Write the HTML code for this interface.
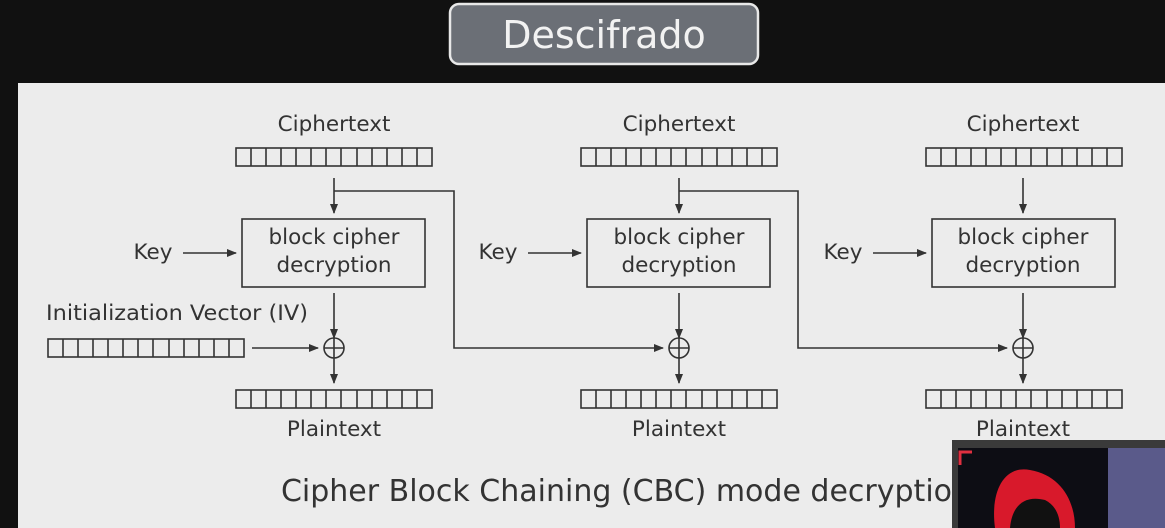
<!DOCTYPE html>
<html><head><style>
body{margin:0;width:1165px;height:528px;background:#111;overflow:hidden;position:relative;font-family:"DejaVu Sans","Liberation Sans",sans-serif}
</style></head><body>
<svg width="1165" height="528" style="position:absolute;left:0;top:0">
<defs>
<marker id="a" markerWidth="10" markerHeight="8" refX="9" refY="4" orient="auto" markerUnits="userSpaceOnUse"><path d="M0,0 L10,4 L0,8 Z" fill="#333"/></marker>
</defs>
<rect x="0" y="0" width="1165" height="528" fill="#111"/>
<rect x="450" y="4" width="308" height="60" rx="9" fill="#6b6f76" stroke="#e8e8e8" stroke-width="2.5"/>
<text x="604" y="48" text-anchor="middle" font-family="'DejaVu Sans',sans-serif" font-size="38" fill="#f2f2f2">Descifrado</text>
<rect x="18" y="83" width="1147" height="445" fill="#ececec"/>
<g fill="#333" font-size="21.5" text-anchor="middle">
<text x="334" y="131">Ciphertext</text><text x="679" y="131">Ciphertext</text><text x="1023" y="131">Ciphertext</text>
<text x="334" y="436">Plaintext</text><text x="679" y="436">Plaintext</text><text x="1023" y="436">Plaintext</text>
<text x="153" y="259">Key</text><text x="498" y="259">Key</text><text x="843" y="259">Key</text>
<text x="334" y="244">block cipher</text><text x="334" y="272">decryption</text>
<text x="679" y="244">block cipher</text><text x="679" y="272">decryption</text>
<text x="1023" y="244">block cipher</text><text x="1023" y="272">decryption</text>
<text x="177" y="320" textLength="262" lengthAdjust="spacingAndGlyphs">Initialization Vector (IV)</text>
<text x="626" y="501" font-size="30">Cipher Block Chaining (CBC) mode decryption</text>
</g>
<g fill="none" stroke="#333" stroke-width="1.6">
<g id="arr">
<rect x="236" y="148" width="196" height="18"/>
<path d="M251,148V166M266,148V166M281,148V166M296,148V166M311,148V166M326,148V166M341,148V166M357,148V166M372,148V166M387,148V166M402,148V166M417,148V166"/>
</g>
<use href="#arr" x="345"/><use href="#arr" x="690"/>
<use href="#arr" y="242"/><use href="#arr" x="345" y="242"/><use href="#arr" x="690" y="242"/>
<use href="#arr" x="-188" y="191"/>
<rect x="242" y="219" width="183" height="68"/>
<rect x="587" y="219" width="183" height="68"/>
<rect x="932" y="219" width="183" height="68"/>
<circle cx="334" cy="348" r="10"/><path d="M324,348H344M334,338V358"/>
<circle cx="679" cy="348" r="10"/><path d="M669,348H689M679,338V358"/>
<circle cx="1023" cy="348" r="10"/><path d="M1013,348H1033M1023,338V358"/>
</g>
<g fill="none" stroke="#333" stroke-width="1.6" marker-end="url(#a)">
<path d="M334,178V213"/><path d="M679,178V213"/><path d="M1023,178V213"/>
<path d="M183,253H236"/><path d="M528,253H581"/><path d="M873,253H926"/>
<path d="M334,293V338"/><path d="M679,293V338"/><path d="M1023,293V338"/>
<path d="M252,348H318"/>
<path d="M334,358V383"/><path d="M679,358V383"/><path d="M1023,358V383"/>
<path d="M334,191H454V348H663"/>
<path d="M679,191H798V348H1007"/>
</g>
<rect x="952" y="440" width="213" height="88" fill="#3a3a3a"/>
<rect x="958" y="448" width="207" height="80" fill="#0d0d14"/>
<rect x="1108" y="448" width="57" height="80" fill="#5a5a8a"/>
<path d="M960,465V452H972" stroke="#e03040" stroke-width="3" fill="none"/>
<path d="M995,528 C990,490 1005,465 1030,470 C1060,475 1075,500 1075,528 Z" fill="#d8192b"/>
<path d="M1010,528 C1012,505 1025,495 1045,500 C1055,505 1060,515 1060,528Z" fill="#111"/>
</svg>
</body></html>
